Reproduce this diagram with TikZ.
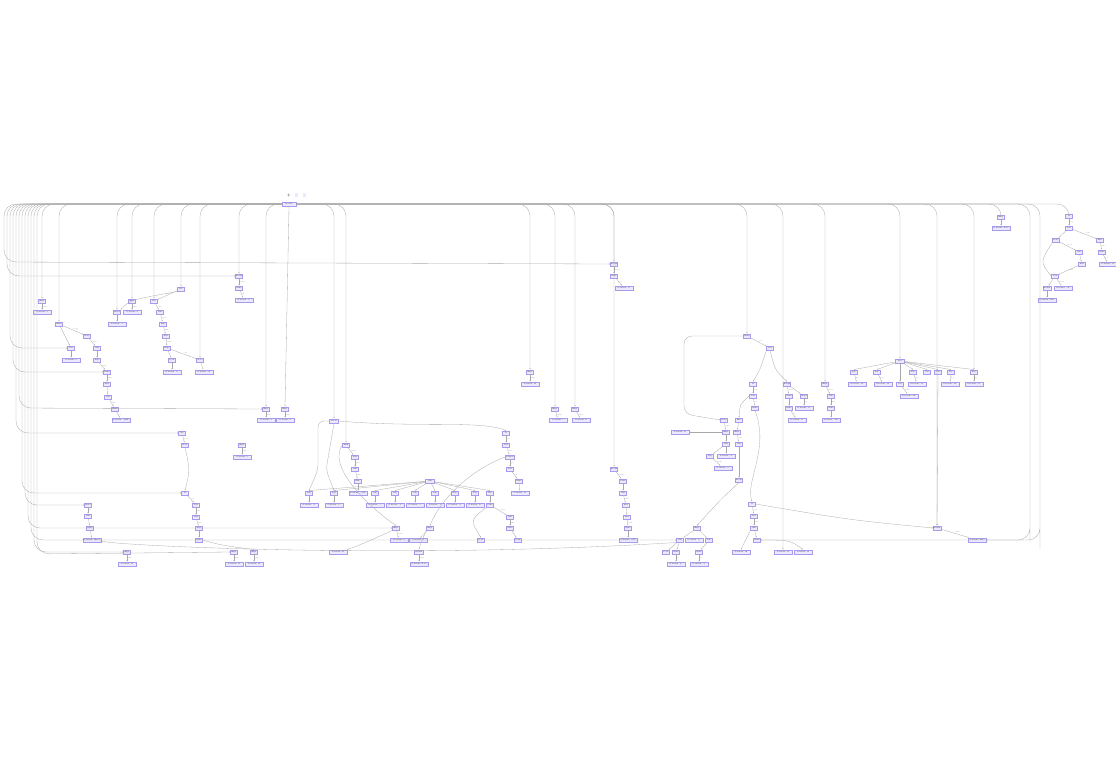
\documentclass[tikz,border=0pt]{standalone}
\usepackage{tikz}
\usetikzlibrary{arrows.meta}
\definecolor{opfill}{HTML}{ECE9FF}
\definecolor{opline}{HTML}{A69CEE}
\definecolor{edgegray}{HTML}{A8A8A8}
\tikzset{
  op/.style={draw=opline, fill=opfill, line width=0.35pt, inner sep=0.4pt, minimum width=7pt, minimum height=4.6pt, font=\fontsize{1.6}{1.8}\selectfont},
  cst/.style={op, minimum width=18pt},
  edge/.style={draw=edgegray, line width=0.3pt, -{Stealth[length=1.3pt,width=1pt]}},
  fan/.style={edge, rounded corners=12pt},
  elab/.style={font=\fontsize{1.5}{1.7}\selectfont, text=black!60, inner sep=0.5pt}
}
\begin{document}
\begin{tikzpicture}[x=1pt,y=1pt,yscale=-1,xscale=1]
\useasboundingbox (0,0) rectangle (1116,760);
% legend
\node [font=\fontsize{4}{4}\selectfont, inner sep=0] (plus) at (289,195) {+};
\node [op, draw=none, minimum width=3pt, minimum height=3.5pt] (key1) at (296,195) {};
\node [op, draw=none, minimum width=3pt, minimum height=3.5pt] (key2) at (304,195) {};
% root
\node [op, minimum width=14pt] (root) at (289,204) {Module};
% top right
\node [op] (ra) at (1001,217) {Expr}; \node [cst] (rac) at (1001,228) {Constant: None};
\node [op] (rb) at (1069,216) {If}; \node [op] (rb2) at (1069,228) {Test};
\node [op] (rc) at (1056,240) {Body}; \node [op] (rd) at (1100,240) {Else};
\node [op] (re) at (1079,252) {Call}; \node [op] (rf) at (1102,252) {Name};
\node [op] (rg) at (1082,264) {Attr}; \node [cst] (rfc) at (1108,264) {Constant: 'id'};
\node [op] (rh) at (1055,276) {Join};
\node [op] (ri) at (1047,288) {Return}; \node [cst] (rhc) at (1063,288) {Constant: 'ok'};
\node [cst] (ric) at (1047,300) {Constant: True};
% top middle
\node [op] (ma) at (614,264) {Assign}; \node [op] (mb) at (614,276) {Name}; \node [cst] (mbc) at (624,288) {Constant: 'x'};
\node [op] (la) at (239,276) {Assign}; \node [op] (lb) at (239,288) {Name}; \node [cst] (lbc) at (244,300) {Constant: 'y'};
% left
\node [op] (lc) at (181,289) {For};
\node [op] (ld) at (42,301) {Expr}; \node [cst] (ldc) at (42,312) {Constant: 1};
\node [op] (le) at (132,301) {Expr}; \node [cst] (lec) at (132,312) {Constant: 2};
\node [op] (lf) at (154,301) {Iter};
\node [op] (lg) at (117,312) {Target}; \node [cst] (lgc) at (117,324) {Constant: 'i'};
\node [op] (lh) at (160,312) {Call};
\node [op] (li) at (59,324) {While};
\node [op] (lj) at (163,324) {Args};
\node [op] (lk) at (87,336) {Body};
\node [op] (ll) at (166,336) {Attr};
\node [op] (lm) at (71,348) {Test}; \node [cst] (lmc) at (71,360) {Constant: 0};
\node [op] (ln) at (97,348) {Call};
\node [op] (lo) at (167,348) {Name};
\node [op] (lp) at (97,360) {Args};
\node [op] (lq) at (172,360) {Load}; \node [cst] (lqc) at (172,372) {Constant: 'n'};
\node [op] (lr) at (200,360) {Store}; \node [cst] (lrc) at (204,372) {Constant: 'm'};
\node [op] (ls) at (107,372) {Name};
\node [op] (lt) at (107,384) {Attr};
\node [op] (lu) at (108,397) {Call};
\node [op] (lv) at (115,409) {Name}; \node [cst] (lvc) at (121,420) {Constant: 'print'};
% row 409
\node [op] (sa) at (266,409) {Expr}; \node [cst] (sac) at (266,420) {Constant: 3};
\node [op] (sb) at (285,409) {Expr}; \node [cst] (sbc) at (285,420) {Constant: 4};
\node [op, minimum width=9pt] (sh) at (334,421) {Block};
\node [op] (sd) at (555,409) {Expr}; \node [cst] (sdc) at (558,420) {Constant: 5};
\node [op] (se) at (575,409) {Expr}; \node [cst] (sec) at (581,420) {Constant: 6};
\node [op] (ua) at (506,433) {If}; \node [op] (ub) at (506,445) {Test}; \node [op] (uc) at (510,457) {Compare};
\node [op] (ud) at (510,469) {Left}; \node [op] (ue) at (519,481) {Name}; \node [cst] (uec) at (520,493) {Constant: 'k'};
\node [op] (va) at (182,433) {Try}; \node [op] (vb) at (185,445) {Body};
\node [op] (vc) at (242,445) {Expr}; \node [cst] (vcc) at (242,457) {Constant: 7};
\node [op] (wa) at (346,445) {With}; \node [op] (wb) at (355,457) {Item}; \node [op] (wc) at (355,469) {Call};
\node [op] (wd) at (358,481) {Func};
% hub and row 493
\node [op, minimum width=9pt] (hub) at (430,481) {Call};
\node [op] (x1) at (309,493) {Arg}; \node [cst] (x1c) at (309,505) {Constant: 'a'};
\node [op] (x2) at (334,493) {Arg}; \node [cst] (x2c) at (334,505) {Constant: 'b'};
\node [cst] (x3c) at (358,493) {Constant: 'open'};
\node [op] (x4) at (375,493) {Arg}; \node [cst] (x4c) at (375,505) {Constant: 'c'};
\node [op] (x5) at (395,493) {Arg}; \node [cst] (x5c) at (395,505) {Constant: 'd'};
\node [op] (x6) at (415,493) {Arg}; \node [cst] (x6c) at (415,505) {Constant: 'e'};
\node [op] (x7) at (435,493) {Arg}; \node [cst] (x7c) at (435,505) {Constant: 'f'};
\node [op] (x8) at (455,493) {Arg}; \node [cst] (x8c) at (455,505) {Constant: 'g'};
\node [op] (x9) at (475,493) {Arg}; \node [cst] (x9c) at (475,505) {Constant: 'h'};
\node [op] (x10) at (490,493) {Kw}; \node [op] (x10b) at (490,505) {Value};
\node [op] (ya) at (510,517) {Call}; \node [op] (yb) at (510,528) {Name};
\node [op] (za) at (396,528) {Expr}; \node [op] (zb) at (430,528) {Expr};
\node [cst] (zac) at (399,540) {Constant: 8}; \node [cst] (zbc) at (418,540) {Constant: 9};
\node [op] (zc) at (481,540) {Load}; \node [op] (zd) at (518,540) {Load};
\node [op] (ka) at (185,493) {If}; \node [op] (kb) at (196,505) {Test}; \node [op] (kc) at (196,517) {Call};
\node [op] (kd) at (199,528) {Attr}; \node [op] (ke) at (199,540) {Name};
\node [op] (wa1) at (88,505) {Raise}; \node [op] (wa2) at (88,516) {Call}; \node [op] (wa3) at (90,528) {Name};
\node [cst] (wa3c) at (92,540) {Constant: 'Error'};
\node [op] (ga) at (614,469) {Assign}; \node [op] (gb) at (623,481) {Value}; \node [op] (gc) at (623,493) {Call};
\node [op] (gd) at (626,505) {Attr}; \node [op] (ge) at (627,517) {Attr}; \node [op] (gf) at (628,528) {Name};
\node [cst] (gfc) at (628,540) {Constant: 'self'};
% bottom left
\node [op] (ba) at (127,552) {Expr}; \node [cst] (bac) at (127,564) {Constant: 10};
\node [op] (bb) at (234,552) {Expr}; \node [cst] (bbc) at (234,564) {Constant: 11};
\node [op] (bc) at (254,552) {Expr}; \node [cst] (bcc) at (254,564) {Constant: 12};
\node [cst] (bdc) at (338,552) {Constant: 13};
\node [op, minimum width=9pt] (be) at (419,552) {Return}; \node [cst] (bec) at (419,564) {Constant: None};
% middle right
\node [op] (mc) at (747,336) {While}; \node [op] (md) at (770,348) {Test};
\node [op, minimum width=9pt] (nf) at (900,361) {Dict};
\node [op] (n1) at (854,372) {Key}; \node [cst] (n1c) at (857,384) {Constant: 'a1'};
\node [op] (n2) at (877,372) {Key}; \node [cst] (n2c) at (883,384) {Constant: 'a2'};
\node [op] (n3) at (913,372) {Key}; \node [cst] (n3c) at (917,384) {Constant: 'a3'};
\node [op] (n4) at (927,372) {Val};
\node [op] (n5) at (938,372) {Val};
\node [op] (n6) at (951,372) {Key}; \node [cst] (n6c) at (950,384) {Constant: 'a4'};
\node [op] (n7) at (974,372) {Key}; \node [cst] (n7c) at (974,384) {Constant: 'a5'};
\node [op] (n8) at (900,384) {Val}; \node [cst] (n8c) at (909,396) {Constant: 'a6'};
\node [op] (aa) at (530,372) {Expr}; \node [cst] (aac) at (530,384) {Constant: 14};
\node [op] (p1) at (753,384) {If}; \node [op] (p1b) at (753,396) {Test}; \node [op] (p1c) at (755,408) {Name};
\node [op] (p2) at (787,384) {Assign}; \node [op] (p2b) at (789,396) {Value}; \node [op] (p2c) at (789,408) {Name};
\node [cst] (p2d) at (797,420) {Constant: 'z'};
\node [op] (p3) at (804,396) {Target}; \node [cst] (p3c) at (804,408) {Constant: 'w'};
\node [op] (p4) at (825,384) {Expr}; \node [op] (p4b) at (831,396) {Call}; \node [op] (p4c) at (831,408) {Name};
\node [cst] (p4d) at (831,420) {Constant: 'len'};
\node [op] (q1) at (724,420) {Body}; \node [op] (q2) at (726,432) {Expr}; \node [op] (q3) at (726,444) {Call};
\node [cst] (q3c) at (726,456) {Constant: 'f'};
\node [op] (q4) at (710,456) {Arg}; \node [cst] (q4c) at (723,468) {Constant: 'v'};
\node [op] (q5) at (739,420) {Else}; \node [op] (q6) at (737,432) {Expr}; \node [op] (q7) at (739,444) {Call};
\node [op] (q8) at (739,480) {Break};
\node [cst] (q0c) at (680,432) {Constant: 15};
% bottom right
\node [op] (t1) at (752,504) {If}; \node [op] (t2) at (754,516) {Test}; \node [op] (t3) at (754,528) {Call};
\node [op] (t4) at (757,540) {Name};
\node [op] (t5) at (697,528) {Expr};
\node [op] (t6) at (680,540) {Call}; \node [cst] (t6c) at (694,540) {Constant: 'g'}; \node [op] (t7) at (709,540) {Arg};
\node [op] (t8) at (666,552) {Load};
\node [op] (t9) at (676,552) {Name}; \node [cst] (t9c) at (676,564) {Constant: 'p'};
\node [op] (t10) at (699,552) {Name}; \node [cst] (t10c) at (699,564) {Constant: 'q'};
\node [cst] (t11c) at (741,552) {Constant: 16};
\node [cst] (t12c) at (783,552) {Constant: 17};
\node [cst] (t13c) at (803,552) {Constant: 18};
\node [op] (u1) at (937,528) {Return}; \node [cst] (u1c) at (977,540) {Constant: False};
% fan from the root
\draw [fan] (root.west) -| (ld.north);
\draw [fan] (root.west) -| (li.north);
\draw [fan] (root.west) -| (lg.north);
\draw [fan] (root.west) -| (le.north);
\draw [fan] (root.west) -| (lf.north);
\draw [fan] (root.west) -| (lc.north);
\draw [fan] (root.west) -| (lr.north);
\draw [fan] (root.west) -| (la.north);
\draw [fan] (root.west) -| (sa.north);
\draw [fan] (root.south) -- (sb.north);
\draw [fan] (root.east) -| (sh.north);
\draw [fan] (root.east) -| (wa.north);
\draw [fan] (root.east) -| (aa.north);
\draw [fan] (root.east) -| (sd.north);
\draw [fan] (root.east) -| (se.north);
\draw [fan] (root.east) -| (ma.north);
\draw [fan] (root.east) -| (ga.north);
\draw [fan] (root.east) -| (mc.north);
\draw [fan] (root.east) -| (t12c.north);
\draw [fan] (root.east) -| (p4.north);
\draw [fan] (root.east) -| (nf.north);
\draw [fan] (root.east) -| (u1.north);
\draw [fan] (root.east) -| (n7.north);
\draw [fan] (root.east) -| (ra.north);
\draw [fan] (root.east) -| (rb.north);
\draw [fan] (root.east) -| (1030,530) |- (u1c.east);
\draw [fan] (root.east) -| (1040,536) |- (t4.east);
\draw [fan] (root.west) -| (4,262) -- (ma.west);
\draw [fan] (root.west) -| (7,276) -- (la.west);
\draw [fan] (root.west) -| (10,348) -- (lm.west);
\draw [fan] (root.west) -| (13,372) -- (ls.west);
\draw [fan] (root.west) -| (16,433) -- (va.west);
\draw [fan] (root.west) -| (19,408) -- (sa.west);
\draw [fan] (root.west) -| (22,493) -- (ka.west);
\draw [fan] (root.west) -| (25,505) -- (wa1.west);
\draw [fan] (root.west) -| (28,528) -- (za.west);
\draw [fan] (root.west) -| (31,540) -- (t6.west);
\draw [fan] (root.west) -| (34,552) -- (ba.west);
\draw [fan] (root.west) -| (37,554) -- (bb.west);
% top right
\draw [edge] (ra) -- (rac);
\draw [edge] (rb) -- (rb2) node [elab, midway, right] {test};
\draw [edge] (rb2) -- (rc); \draw [edge] (rb2) -- (rd) node [elab, midway, above right] {orelse};
\draw [edge] (rc) -- (re) node [elab, midway, above right] {body};
\draw [edge] (rd) -- (rf) node [elab, midway, right] {func};
\draw [edge] (re) -- (rg); \draw [edge] (rf) -- (rfc) node [elab, midway, right] {id};
\draw [edge] (rc.south west) .. controls (1040,262) .. (rh.west);
\draw [edge] (rg) -- (rh) node [elab, midway, right] {next};
\draw [edge] (rh) -- (ri); \draw [edge] (rh) -- (rhc) node [elab, midway, right] {value};
\draw [edge] (ri) -- (ric);
% top middle and left
\draw [edge] (ma) -- (mb) node [elab, midway, right] {target};
\draw [edge] (mb) -- (mbc) node [elab, midway, right] {id};
\draw [edge] (la) -- (lb) node [elab, midway, right] {target};
\draw [edge] (lb) -- (lbc) node [elab, midway, right] {id};
\draw [edge] (lc) -- (lf) node [elab, midway, above] {iter};
\draw [edge] (lc.south west) .. controls (130,300) .. (lg.north east);
\draw [edge] (ld) -- (ldc) node [elab, midway, right] {value};
\draw [edge] (le) -- (lec) node [elab, midway, right] {value};
\draw [edge] (lf) -- (lh) node [elab, midway, right] {call};
\draw [edge] (lh) -- (lj) node [elab, midway, right] {args};
\draw [edge] (lj) -- (ll) node [elab, midway, right] {func};
\draw [edge] (ll) -- (lo) node [elab, midway, right] {value};
\draw [edge] (lo) -- (lq); \draw [edge] (lq) -- (lqc);
\draw [edge] (lo) -- (lr) node [elab, midway, above right] {ctx};
\draw [edge] (lr) -- (lrc);
\draw [edge] (lg) -- (lgc);
\draw [edge] (li) -- (lk) node [elab, midway, above right] {body};
\draw [edge] (li) -- (lm); \draw [edge] (lm) -- (lmc);
\draw [edge] (lk) -- (ln) node [elab, midway, right] {expr};
\draw [edge] (ln) -- (lp); \draw [edge] (lp) -- (ls) node [elab, midway, right] {args};
\draw [edge] (ls) -- (lt) node [elab, midway, right] {value};
\draw [edge] (lt) -- (lu); \draw [edge] (lu) -- (lv) node [elab, midway, right] {func};
\draw [edge] (lv) -- (lvc) node [elab, midway, right] {id};
% row 409
\draw [edge] (sa) -- (sac) node [elab, midway, right] {value};
\draw [edge] (sb) -- (sbc) node [elab, midway, right] {value};
\draw [edge] (sd) -- (sdc) node [elab, midway, right] {value};
\draw [edge] (se) -- (sec) node [elab, midway, right] {value};
\draw [edge] (sh.east) .. controls (420,428) and (480,420) .. (ua.north);
\draw [edge, rounded corners=6pt] (sh.west) -| (318,470) -- (x1.north);
\draw [edge, rounded corners=6pt] (sh.south) -- (326,470) -- (x2.north);
\draw [edge] (ua) -- (ub) node [elab, midway, right] {test};
\draw [edge] (ub) -- (uc) node [elab, midway, right] {left};
\draw [edge] (uc) -- (ud) node [elab, midway, right] {ops};
\draw [edge] (ud) -- (ue) node [elab, midway, right] {id};
\draw [edge] (ue) -- (uec);
\draw [edge] (va) -- (vb) node [elab, midway, right] {body};
\draw [edge] (vc) -- (vcc) node [elab, midway, right] {value};
\draw [edge] (vb.south) .. controls (190,470) .. (ka.north);
\draw [edge] (wa) -- (wb) node [elab, midway, right] {items};
\draw [edge] (wb) -- (wc) node [elab, midway, right] {expr};
\draw [edge] (wc) -- (wd) node [elab, midway, right] {func};
\draw [edge] (wd) -- (x3c);
% hub
\foreach \t in {x1,x2,x4,x5,x6,x7,x8,x9,x10} \draw [edge] (hub) -- (\t.north);
\draw [edge] (x1) -- (x1c); \draw [edge] (x2) -- (x2c); \draw [edge] (x4) -- (x4c);
\draw [edge] (x5) -- (x5c); \draw [edge] (x6) -- (x6c); \draw [edge] (x7) -- (x7c);
\draw [edge] (x8) -- (x8c); \draw [edge] (x9) -- (x9c); \draw [edge] (x10) -- (x10b);
\draw [edge] (x10b) -- (ya) node [elab, midway, above right] {value};
\draw [edge] (ya) -- (yb) node [elab, midway, right] {func};
\draw [edge] (yb) -- (zd);
\draw [edge] (x10b.south west) .. controls (470,520) .. (zc.north);
\draw [edge] (za) -- (zac) node [elab, midway, right] {value};
\draw [edge] (zb) -- (zbc);
\draw [edge] (wa.west) .. controls (325,470) and (380,515) .. (za.north);
\draw [edge] (uc.west) .. controls (470,470) and (440,500) .. (zb.north);
\draw [edge] (zb.south west) .. controls (420,545) .. (be.north);
\draw [edge] (za.south west) .. controls (360,545) .. (bdc.north east);
\draw [edge] (ka) -- (kb) node [elab, midway, right] {test};
\draw [edge] (kb) -- (kc) node [elab, midway, right] {call};
\draw [edge] (kc) -- (kd) node [elab, midway, right] {func};
\draw [edge] (kd) -- (ke);
\draw [edge] (ke.east) .. controls (220,545) .. (bc.north);
\draw [edge] (wa1) -- (wa2) node [elab, midway, right] {exc};
\draw [edge] (wa2) -- (wa3); \draw [edge] (wa3) -- (wa3c);
\draw [edge] (ga) -- (gb) node [elab, midway, right] {value};
\draw [edge] (gb) -- (gc); \draw [edge] (gc) -- (gd) node [elab, midway, right] {func};
\draw [edge] (gd) -- (ge); \draw [edge] (ge) -- (gf) node [elab, midway, right] {value};
\draw [edge] (gf) -- (gfc);
% bottom left
\draw [edge] (ba) -- (bac) node [elab, midway, right] {value};
\draw [edge] (bb) -- (bbc) node [elab, midway, right] {value};
\draw [edge] (bc) -- (bcc) node [elab, midway, right] {value};
\draw [edge] (be) -- (bec) node [elab, midway, right] {value};
% middle right
\draw [edge] (mc) -- (md) node [elab, midway, above right] {test};
\draw [edge, rounded corners=8pt] (mc.west) -| (684,414) -- (q1.west);
\draw [edge] (md.south west) .. controls (760,370) .. (p1.north);
\draw [edge] (md.south) .. controls (775,370) .. (p2.north);
\foreach \t in {n1,n2,n3,n4,n5,n6,n7,n8} \draw [edge] (nf) -- (\t.north);
\draw [edge] (n1) -- (n1c) node [elab, midway, right] {key};
\draw [edge] (n2) -- (n2c) node [elab, midway, right] {key};
\draw [edge] (n3) -- (n3c) node [elab, midway, right] {key};
\draw [edge] (n6) -- (n6c) node [elab, midway, right] {key};
\draw [edge] (n7) -- (n7c) node [elab, midway, right] {key};
\draw [edge] (n8) -- (n8c) node [elab, midway, right] {value};
\draw [edge] (n5) -- (u1.north);
\draw [edge] (aa) -- (aac) node [elab, midway, right] {value};
\draw [edge] (p1) -- (p1b) node [elab, midway, right] {test};
\draw [edge] (p1b) -- (p1c) node [elab, midway, right] {id};
\draw [edge] (p2) -- (p2b) node [elab, midway, right] {value};
\draw [edge] (p2b) -- (p2c); \draw [edge] (p2c) -- (p2d) node [elab, midway, right] {id};
\draw [edge] (p2) -- (p3); \draw [edge] (p3) -- (p3c) node [elab, midway, right] {id};
\draw [edge] (p4) -- (p4b) node [elab, midway, right] {value};
\draw [edge] (p4b) -- (p4c) node [elab, midway, right] {func};
\draw [edge] (p4c) -- (p4d);
\draw [edge] (q1) -- (q2) node [elab, midway, right] {expr};
\draw [edge] (q2) -- (q3); \draw [edge] (q3) -- (q3c);
\draw [edge] (q3) -- (q4); \draw [edge] (q4) -- (q4c) node [elab, midway, right] {value};
\draw [edge] (q2.west) -- (q0c.east);
\draw [edge] (q5) -- (q6); \draw [edge] (q6) -- (q7) node [elab, midway, right] {call};
\draw [edge] (q7) -- (q8);
\draw [edge] (p1c.south) .. controls (770,450) and (745,480) .. (t1.north);
\draw [edge] (p1b.west) .. controls (740,404) .. (q5.north);
% bottom right
\draw [edge] (t1) -- (t2) node [elab, midway, right] {test};
\draw [edge] (t2) -- (t3) node [elab, midway, right] {call};
\draw [edge] (t3) -- (t4);
\draw [edge] (q8.south) .. controls (720,500) .. (t5.north);
\draw [edge] (t5) -- (t7); \draw [edge] (t5) -- (t6);
\draw [edge] (t6) -- (t8); \draw [edge] (t6) -- (t9);
\draw [edge] (t7) -- (t10);
\draw [edge] (t9) -- (t9c) node [elab, midway, right] {id};
\draw [edge] (t10) -- (t10c) node [elab, midway, right] {id};
\draw [edge] (t3.south west) .. controls (745,540) .. (t11c.north);
\draw [edge] (t4.east) .. controls (790,540) .. (t13c.north);
\draw [edge] (u1) -- (u1c) node [elab, midway, above right] {value};
\draw [edge] (t1.east) .. controls (850,520) .. (u1.west);
\draw [edge] (t6.south west) .. controls (400,560) and (100,545) .. (wa3c.east);
\end{tikzpicture}
\end{document}
